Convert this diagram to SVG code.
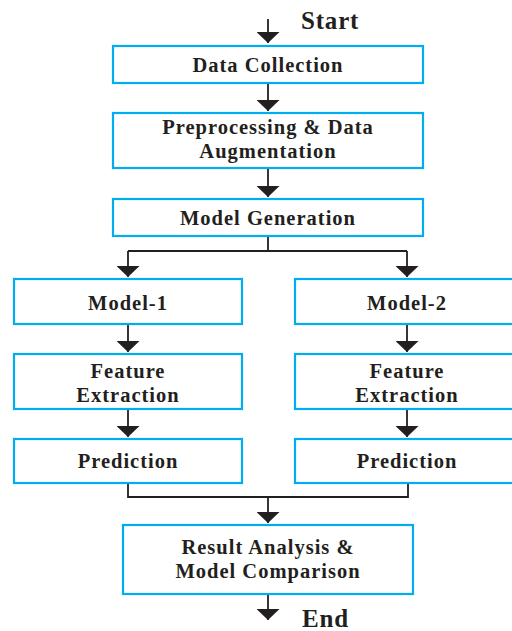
<svg xmlns="http://www.w3.org/2000/svg" width="512" height="631" viewBox="0 0 512 631">
<defs>
<style>
.box{fill:#fff;stroke:#00AEEF;stroke-width:2.2}
.t{font-family:"Liberation Serif","DejaVu Serif",serif;font-weight:bold;font-size:20.5px;letter-spacing:1px;fill:#231F20;text-anchor:middle}
.big{font-family:"Liberation Serif","DejaVu Serif",serif;font-weight:bold;font-size:25px;letter-spacing:0.8px;fill:#231F20}
.c{fill:none;stroke:#231F20;stroke-width:1.8}
</style>
<marker id="ah" viewBox="0 0 11 23" refX="11" refY="11.5" markerWidth="11" markerHeight="23" markerUnits="userSpaceOnUse" orient="auto">
<path d="M0,0 L11,11.5 L0,23 z" fill="#231F20"/>
</marker>
</defs>
<rect width="512" height="631" fill="#fff"/>
<g id="connectors">
<path class="c" d="M268,19 V43" marker-end="url(#ah)"/>
<path class="c" d="M268,84 V111" marker-end="url(#ah)"/>
<path class="c" d="M268,169 V197" marker-end="url(#ah)"/>
<path class="c" d="M268,237 V251 M128,251 H407"/>
<path class="c" d="M128,251 V277" marker-end="url(#ah)"/>
<path class="c" d="M407,251 V277" marker-end="url(#ah)"/>
<path class="c" d="M128,325 V352" marker-end="url(#ah)"/>
<path class="c" d="M407,325 V352" marker-end="url(#ah)"/>
<path class="c" d="M128,410 V437" marker-end="url(#ah)"/>
<path class="c" d="M407,410 V437" marker-end="url(#ah)"/>
<path class="c" d="M128,484 V497 H408 V484"/>
<path class="c" d="M268,497 V523" marker-end="url(#ah)"/>
<path class="c" d="M268,595 V620" marker-end="url(#ah)"/>
</g>
<g id="start"><text class="big" x="301" y="29">Start</text></g>
<g id="data-collection"><rect class="box" x="113" y="46" width="310" height="37"/><text class="t" x="268" y="72">Data Collection</text></g>
<g id="preprocessing"><rect class="box" x="113" y="113" width="310" height="55"/><text class="t" x="268" y="134">Preprocessing &amp; Data</text><text class="t" x="268" y="158">Augmentation</text></g>
<g id="model-generation"><rect class="box" x="113" y="199" width="310" height="37"/><text class="t" x="268" y="225">Model Generation</text></g>
<g id="model-1"><rect class="box" x="14" y="279" width="228" height="45"/><text class="t" x="128" y="310">Model-1</text></g>
<g id="model-2"><rect class="box" x="295" y="279" width="228" height="45"/><text class="t" x="407" y="310">Model-2</text></g>
<g id="feature-1"><rect class="box" x="14" y="354" width="228" height="55"/><text class="t" x="128" y="378">Feature</text><text class="t" x="128" y="402">Extraction</text></g>
<g id="feature-2"><rect class="box" x="295" y="354" width="228" height="55"/><text class="t" x="407" y="378">Feature</text><text class="t" x="407" y="402">Extraction</text></g>
<g id="prediction-1"><rect class="box" x="14" y="439" width="228" height="44"/><text class="t" x="128" y="468">Prediction</text></g>
<g id="prediction-2"><rect class="box" x="295" y="439" width="228" height="44"/><text class="t" x="407" y="468">Prediction</text></g>
<g id="result"><rect class="box" x="123" y="525" width="290" height="69"/><text class="t" x="268" y="554">Result Analysis &amp;</text><text class="t" x="268" y="578">Model Comparison</text></g>
<g id="end"><text class="big" x="302" y="627">End</text></g>
</svg>
